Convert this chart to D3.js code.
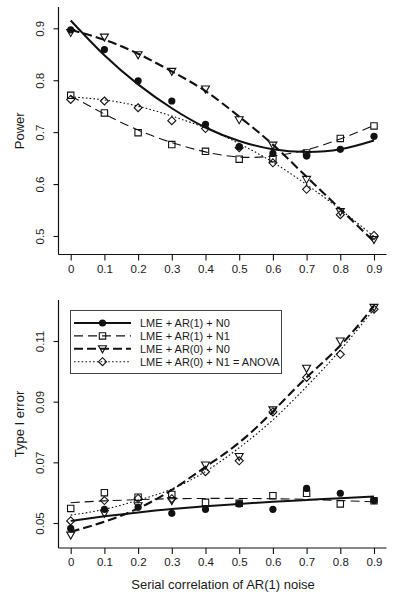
<!DOCTYPE html>
<html><head><meta charset="utf-8">
<script src="https://cdn.jsdelivr.net/npm/d3@7"></script>
<style>body{margin:0;background:#fff}svg{display:block}text{font-family:"Liberation Sans",Arial,sans-serif;fill:#1a1a1a}</style>
</head><body><svg id="c" width="406" height="599"></svg>
<script>
// ---------- data ----------
const rho = [0, 0.1, 0.2, 0.3, 0.4, 0.5, 0.6, 0.7, 0.8, 0.9];
const xTickLabels = ["0", "0.1", "0.2", "0.3", "0.4", "0.5", "0.6", "0.7", "0.8", "0.9"];
const seriesNames = ["LME + AR(1) + N0", "LME + AR(1) + N1", "LME + AR(0) + N0", "LME + AR(0) + N1 = ANOVA"];

// Power (observed points)
const powAR1N0 = [0.897, 0.859, 0.799, 0.760, 0.715, 0.672, 0.659, 0.654, 0.667, 0.692];
const powAR1N1 = [0.771, 0.737, 0.699, 0.676, 0.663, 0.648, 0.649, 0.660, 0.688, 0.712];
const powAR0N0 = [0.892, 0.883, 0.849, 0.817, 0.783, 0.724, 0.675, 0.609, 0.547, 0.493];
const powAR0N1 = [0.763, 0.760, 0.747, 0.722, 0.707, 0.670, 0.641, 0.590, 0.541, 0.501];
// Power (fitted curves)
const powFitAR1N0 = [0.915, 0.848, 0.792, 0.746, 0.709, 0.683, 0.667, 0.662, 0.667, 0.684];
const powFitAR1N1 = [0.770, 0.735, 0.704, 0.680, 0.662, 0.652, 0.654, 0.666, 0.687, 0.713];
const powFitAR0N0 = [0.897, 0.878, 0.851, 0.817, 0.779, 0.730, 0.676, 0.614, 0.552, 0.489];
const powFitAR0N1 = [0.768, 0.762, 0.750, 0.731, 0.708, 0.678, 0.642, 0.599, 0.551, 0.499];
const powTicks = [0.5, 0.6, 0.7, 0.8, 0.9];
const powTickLabels = ["0.5", "0.6", "0.7", "0.8", "0.9"];

// Type I error (observed points)
const t1AR1N0 = [0.0482, 0.0545, 0.0552, 0.0532, 0.0545, 0.0563, 0.0545, 0.0614, 0.0598, 0.0574];
const t1AR1N1 = [0.0548, 0.0600, 0.0585, 0.0594, 0.0568, 0.0565, 0.0590, 0.0598, 0.0563, 0.0573];
const t1AR0N0 = [0.0460, 0.0532, 0.0557, 0.0574, 0.0691, 0.0719, 0.0873, 0.1010, 0.1100, 0.1211];
const t1AR0N1 = [0.0507, 0.0574, 0.0581, 0.0580, 0.0669, 0.0705, 0.0866, 0.0980, 0.1056, 0.1205];
// Type I error (fitted curves)
const t1FitAR1N0 = [0.0507, 0.0522, 0.0535, 0.0546, 0.0555, 0.0563, 0.0570, 0.0576, 0.0582, 0.0587];
const t1FitAR1N1 = [0.0567, 0.0573, 0.0577, 0.0580, 0.0581, 0.0581, 0.0580, 0.0578, 0.0574, 0.0570];
const t1FitAR0N0 = [0.0471, 0.0504, 0.0548, 0.0609, 0.0685, 0.0765, 0.0868, 0.0980, 0.1085, 0.1215];
const t1FitAR0N1 = [0.0526, 0.0545, 0.0575, 0.0612, 0.0670, 0.0748, 0.0840, 0.0950, 0.1070, 0.1205];
const t1Ticks = [0.05, 0.07, 0.09, 0.11];
const t1TickLabels = ["0.05", "0.07", "0.09", "0.11"];

// ---------- styles ----------
const styles = [
  {marker: "circle", width: 2, dash: null},
  {marker: "square", width: 1.1, dash: "9,5"},
  {marker: "triangle", width: 2.1, dash: "9,4"},
  {marker: "diamond", width: 1.1, dash: "1.6,2.2"}
];

const svg = d3.select("#c");

function markerPath(type) {
  const p = d3.path();
  if (type === "square") { p.rect(-3.2, -3.2, 6.4, 6.4); }
  else if (type === "triangle") { p.moveTo(-4, -3); p.lineTo(4, -3); p.lineTo(0, 4); p.closePath(); }
  else if (type === "diamond") { p.moveTo(0, -4); p.lineTo(4, 0); p.lineTo(0, 4); p.lineTo(-4, 0); p.closePath(); }
  return p.toString();
}
function drawMarker(g, type, x, y) {
  if (type === "circle") {
    g.append("circle").attr("cx", x).attr("cy", y).attr("r", 3.6).attr("fill", "#111");
  } else {
    g.append("path").attr("d", markerPath(type)).attr("transform", `translate(${x},${y})`)
      .attr("fill", "none").attr("stroke", "#111").attr("stroke-width", 1.1);
  }
}

const x = d3.scaleLinear().domain([0, 0.9]).range([70.7, 374]);

function panel(cfg) {
  const g = svg.append("g");
  const y = cfg.y;
  // L-shaped frame
  g.append("line").attr("x1", 58.5).attr("x2", 58.5).attr("y1", cfg.top).attr("y2", cfg.bottom)
    .attr("stroke", "#111").attr("stroke-width", 1.2);
  g.append("line").attr("x1", 58.5).attr("x2", 386.5).attr("y1", cfg.bottom).attr("y2", cfg.bottom)
    .attr("stroke", "#111").attr("stroke-width", 1.2);
  // x axis
  const xa = g.append("g").attr("transform", `translate(0,${cfg.bottom})`)
    .call(d3.axisBottom(x).tickValues(rho).tickFormat((d, i) => xTickLabels[i]).tickSize(6).tickPadding(4));
  xa.select(".domain").remove();
  xa.selectAll("line").attr("stroke", "#111").attr("stroke-width", 1.1);
  xa.selectAll("text").attr("font-size", 11.5).attr("fill", "#1a1a1a").style("font-family", '"Liberation Sans",Arial,sans-serif');
  // y axis
  const ya = g.append("g").attr("transform", "translate(58.5,0)")
    .call(d3.axisLeft(y).tickValues(cfg.ticks).tickFormat((d, i) => cfg.tickLabels[i]).tickSize(5));
  ya.select(".domain").remove();
  ya.selectAll("line").attr("stroke", "#111").attr("stroke-width", 1.1);
  ya.selectAll("text").attr("font-size", 11.5).attr("fill", "#1a1a1a").style("font-family", '"Liberation Sans",Arial,sans-serif')
    .attr("text-anchor", "middle").attr("x", 0).attr("dy", 0)
    .attr("transform", "translate(-14.5,0) rotate(-90)");
  // y title
  g.append("text").attr("transform", `translate(24,${(cfg.top + cfg.bottom) / 2}) rotate(-90)`)
    .attr("text-anchor", "middle").attr("font-size", 13).text(cfg.title);
  // fitted lines
  const line = d3.line().x((d, i) => x(rho[i])).y(d => y(d)).curve(d3.curveNatural);
  cfg.fits.forEach((f, k) => {
    const st = styles[k];
    g.append("path").attr("d", line(f)).attr("fill", "none").attr("stroke", "#111")
      .attr("stroke-width", st.width).attr("stroke-dasharray", st.dash);
  });
  // points
  cfg.points.forEach((pts, k) => {
    pts.forEach((v, i) => drawMarker(g, styles[k].marker, x(rho[i]), y(v)));
  });
}

panel({
  top: 7, bottom: 254.5,
  y: d3.scaleLinear().domain([0.5, 0.9]).range([236, 28.3]),
  ticks: powTicks, tickLabels: powTickLabels, title: "Power",
  points: [powAR1N0, powAR1N1, powAR0N0, powAR0N1],
  fits: [powFitAR1N0, powFitAR1N1, powFitAR0N0, powFitAR0N1]
});
panel({
  top: 300, bottom: 548,
  y: d3.scaleLinear().domain([0.05, 0.11]).range([523, 341]),
  ticks: t1Ticks, tickLabels: t1TickLabels, title: "Type I error",
  points: [t1AR1N0, t1AR1N1, t1AR0N0, t1AR0N1],
  fits: [t1FitAR1N0, t1FitAR1N1, t1FitAR0N0, t1FitAR0N1]
});

// x title
svg.append("text").attr("x", 223).attr("y", 589).attr("text-anchor", "middle")
  .attr("font-size", 13).text("Serial correlation of AR(1) noise");

// legend
const lg = svg.append("g");
lg.append("rect").attr("x", 70.5).attr("y", 310.5).attr("width", 211).attr("height", 63)
  .attr("fill", "#fff").attr("stroke", "#444").attr("stroke-width", 1);
seriesNames.forEach((name, k) => {
  const yy = 323 + k * 12.9;
  const st = styles[k];
  lg.append("line").attr("x1", 74).attr("x2", 131).attr("y1", yy).attr("y2", yy)
    .attr("stroke", "#111").attr("stroke-width", st.width).attr("stroke-dasharray", st.dash);
  drawMarker(lg, st.marker, 102.5, yy);
  lg.append("text").attr("x", 140).attr("y", yy + 4).attr("font-size", 11).text(name);
});
</script>
</body></html>
